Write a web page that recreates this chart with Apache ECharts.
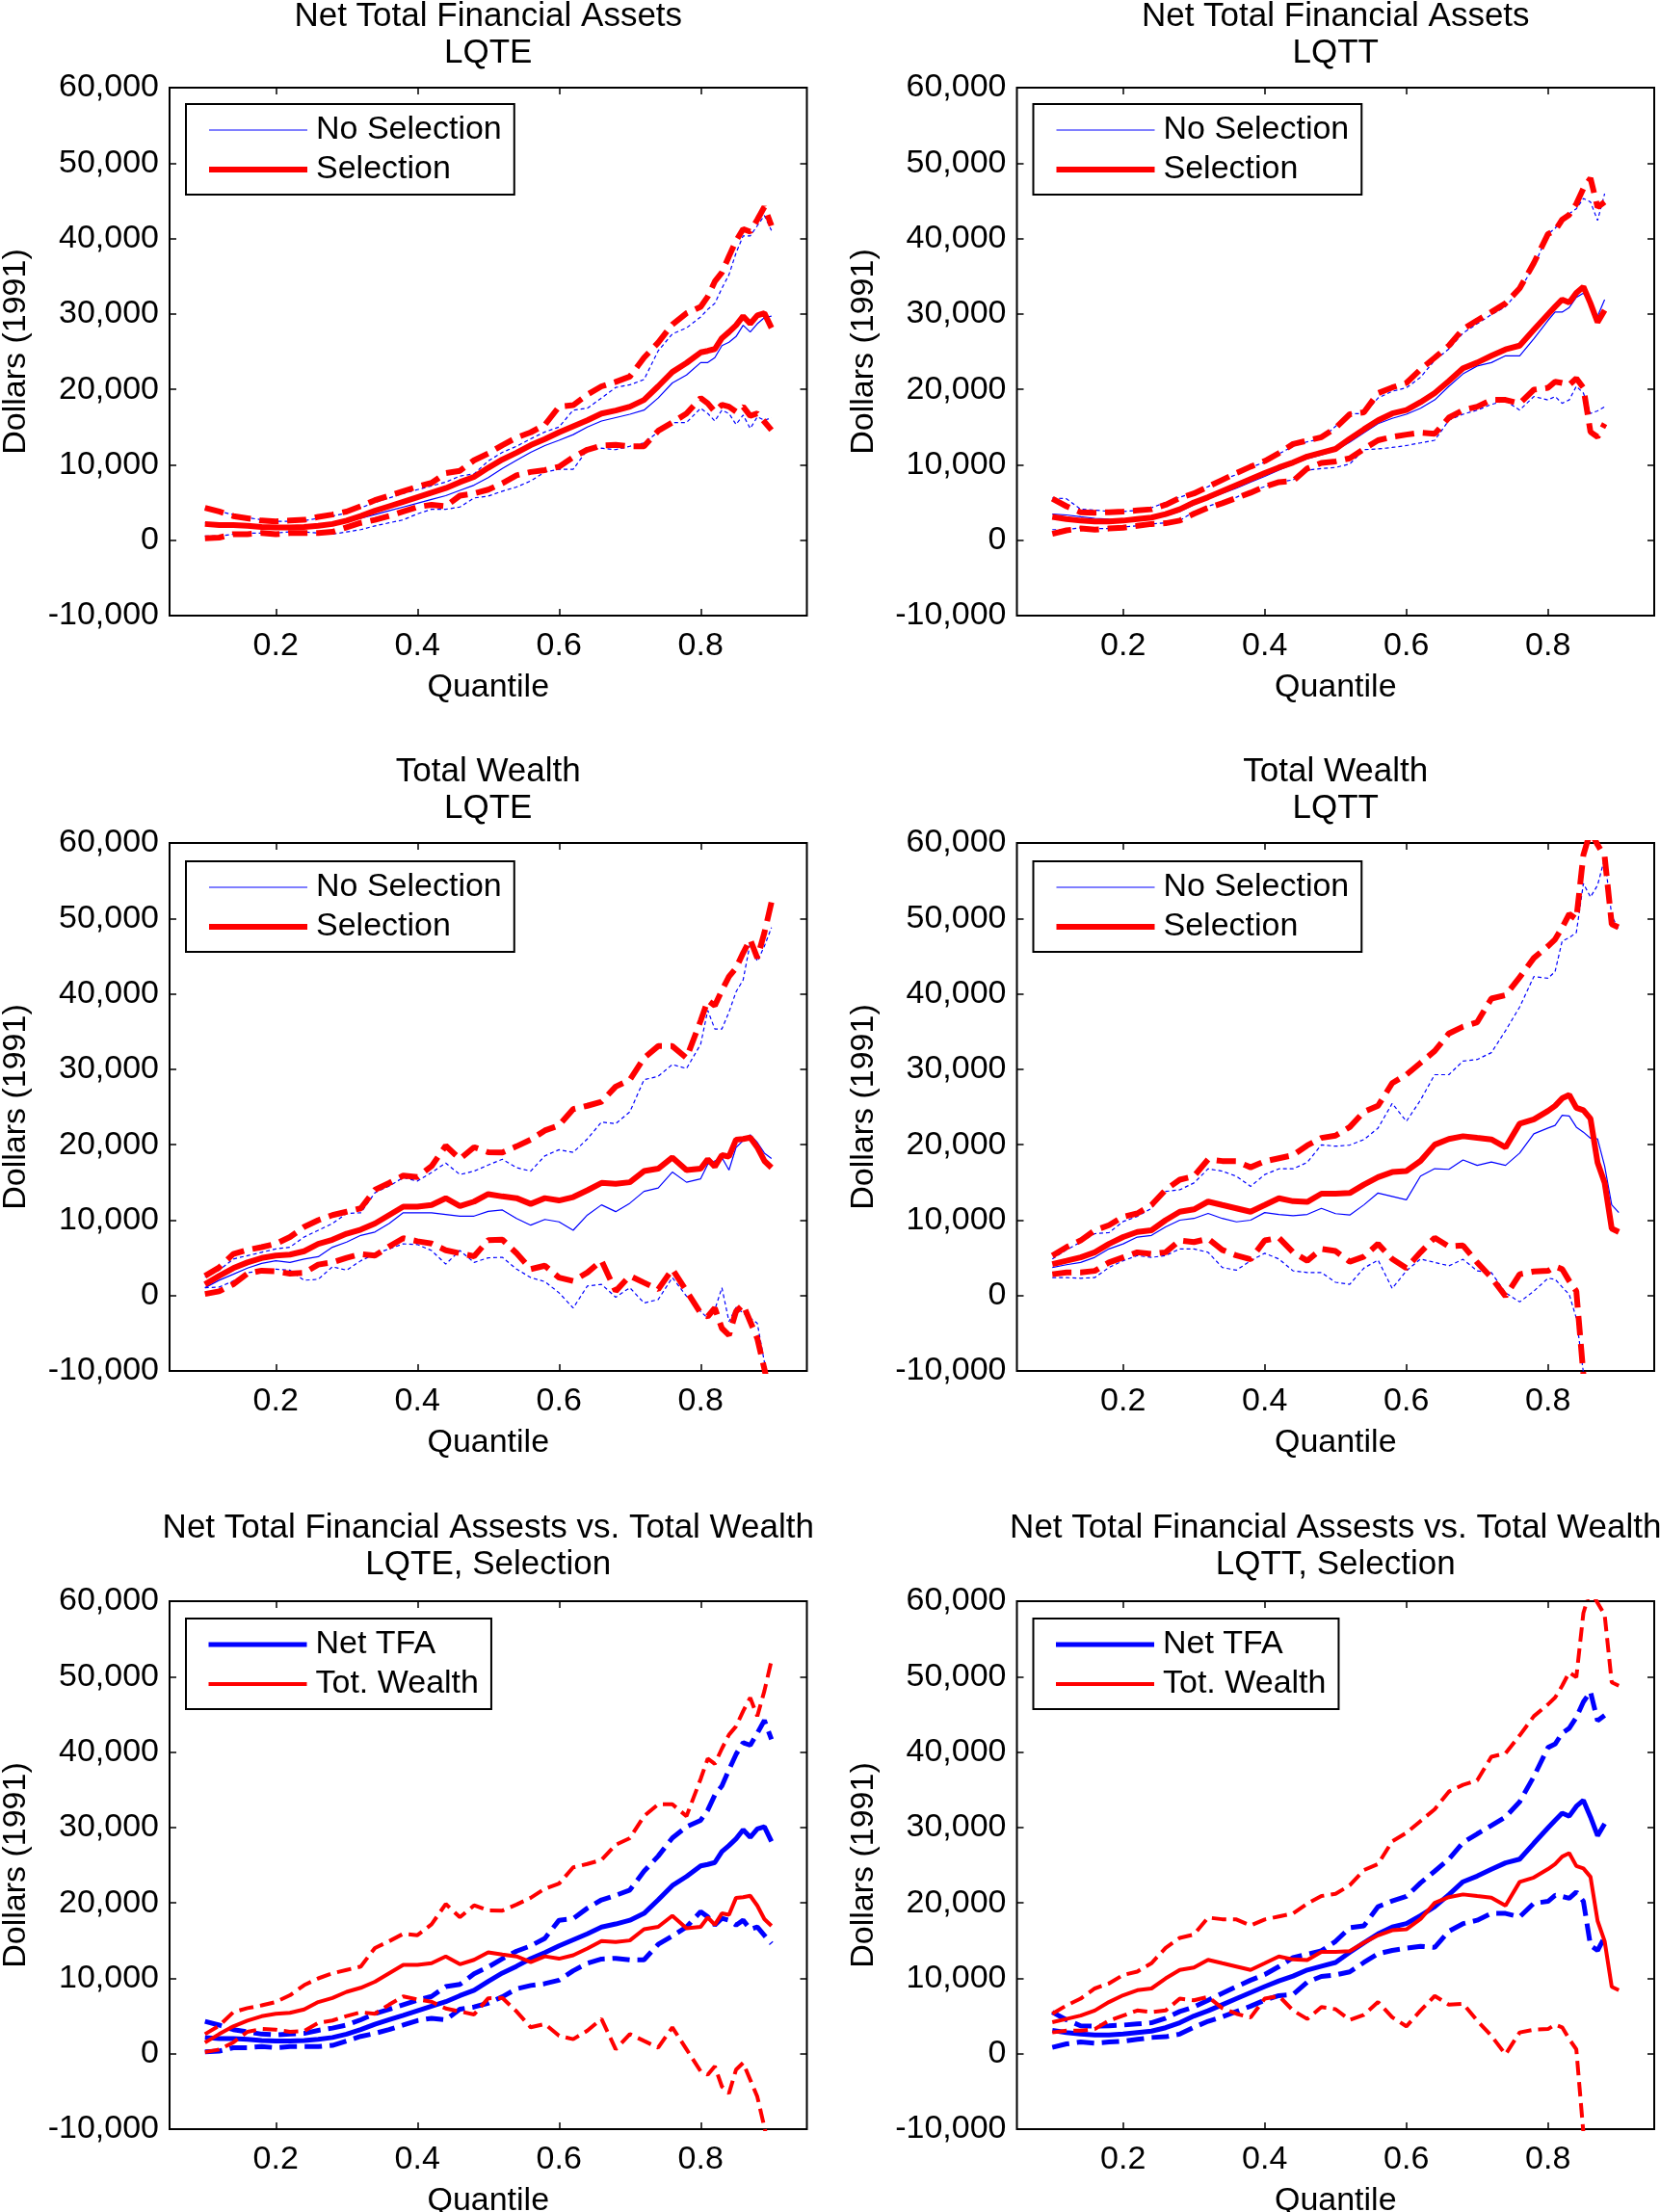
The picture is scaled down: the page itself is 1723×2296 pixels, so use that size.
<!DOCTYPE html>
<html><head><meta charset="utf-8">
<script src="https://cdn.jsdelivr.net/npm/echarts@6.0.0/dist/echarts.min.js"></script>
<style>html,body{margin:0;padding:0;background:#fff}#c{width:1723px;height:2296px}</style>
</head><body><div id="c"></div>
<script>
// Quantile grid
const X = [0.10,0.12,0.14,0.16,0.18,0.20,0.22,0.24,0.26,0.28,0.30,0.32,0.34,0.36,0.38,0.40,0.42,0.44,0.46,0.48,0.50,0.52,0.54,0.56,0.58,0.60,0.62,0.64,0.66,0.68,0.70,0.72,0.74,0.76,0.78,0.80,0.81,0.82,0.83,0.84,0.85,0.86,0.87,0.88,0.89,0.90];
const xTicks = [0.2,0.4,0.6,0.8];

// Net TFA, LQTE
const ntfaLqteNo   = [2300,2100,2000,1900,1800,1800,1800,1900,2000,2200,2500,2900,3400,3900,4400,4900,5400,5900,6600,7300, 8300,9500,10600,11650,12550,13250,14000,15000,15800,16250,16700,17250,18850,20850,21900,23550, 23550,24200,25800,26250,27000,28500,27600,28700,29500,29700];
const ntfaLqteNoHi = [4200,3800,3400,3000,2700,2500,2500,2600,2900,3200,3600,4300,5000,5600,6200,6700,7200,7700,8500,8800, 10500,11650,12450,13450,14350,15000,17250,17500,18850,20250,20600,21300,25100,27350,28150,29600, 30600,31400,33400,35200,38100,40350,40350,41700,43050,41050];
const ntfaLqteNoLo = [550,550,800,950,950,950,1100,1100,950,800,1100,1400,1900,2300,2700,3500,4100,4100,4400,5600, 5850,6500,7050,7850,9050,9400,9400,12000,12200,12000,12450,12900,14350,15600,15600,17500, 16800,15800,17250,16800,15350,16600,14800,16350,15900,16250];
const ntfaLqteSel   = [2150,2000,2000,1900,1750,1700,1700,1750,1900,2150,2600,3200,3900,4500,5100,5700,6300,6900,7700,8400, 9600,10700,11600,12600,13400,14300,15100,15900,16800,17200,17700,18600,20400,22300,23500,24900, 25100,25350,26800,27600,28500,29700,28700,29800,30100,28150];
const ntfaLqteSelHi = [4300,3800,3200,2900,2600,2500,2600,2700,3100,3400,3800,4500,5300,5900,6500,7100,7600,8900,9200,10600, 11500,12600,13600,14300,15300,17700,17900,19300,20400,21000,21700,24200,26200,28600,30100,30950, 32300,34300,35500,37650,39700,41250,40900,42500,44200,41700];
const ntfaLqteSelLo = [250,350,800,800,950,800,950,950,950,1100,1700,2300,2700,3200,3800,4400,4700,4500,5900,6200, 6700,7550,8600,9050,9300,9750,11000,12000,12550,12650,12450,12450,14500,15600,16800,18850, 18150,17050,17950,17700,17050,17700,16500,16800,15700,14600];

// Net TFA, LQTT
const ntfaLqttNo   = [3450,3350,3100,2900,2800,2750,2800,2900,3200,3800,4700,5500,6200,6900,7700,8450,9300,10050,10800,11300, 11900,13000,14250,15450,16150,16700,17500,18600,20400,22050,23100,23550,24450,24450,26700,29150, 30250,30250,30850,32200,32750,31400,29700,31900,null,null];
const ntfaLqttNoHi = [5600,5500,4100,4000,3800,3800,3950,4300,5000,5700,6300,7100,8000,8700,9650,10350,11450,12450,13050,13450, 15100,16800,16750,18850,19750,20200,21600,23850,25350,27450,28700,29900,30950,33200,36300,40600, 41350,42500,43300,43950,45300,44850,42400,45950,null,null];
const ntfaLqttNoLo = [1400,1400,1650,1550,1550,1750,1900,2150,2300,2600,3800,4500,5100,5700,6500,7100,7700,8000,9300,9500, 9650,10100,12000,12100,12300,12550,12900,13250,15900,16700,17250,18000,18500,17250,19050,18600, 19050,18150,18600,20400,19500,16800,17150,17700,null,null];
const ntfaLqttSel   = [3100,2800,2600,2500,2500,2600,2800,3000,3450,4100,5000,5700,6500,7300,8100,8900,9650,10300,11100,11600, 12100,13450,14700,15900,16800,17250,18300,19500,21100,22800,23550,24450,25300,25800,27900,29950, 30950,31900,31500,32800,33600,31400,28900,30500,null,null];
const ntfaLqttSelHi = [5500,4500,3700,3650,3700,3800,3950,4100,4700,5600,6200,7100,8000,8900,9750,10500,11550,12750,13200,13650, 14900,16700,16950,19500,20250,20850,22650,24200,25800,28000,29150,30250,31400,33400,36750,40600, 41050,42500,43150,44600,46650,48000,44150,44850,null,null];
const ntfaLqttSelLo = [850,1300,1550,1400,1550,1650,1900,2150,2250,2600,3500,4300,4900,5600,6300,7100,7700,7850,9500,10250, 10450,10850,12100,13250,13700,14000,14250,14100,16250,17250,17700,18600,18600,18150,19950,20200, 21000,20850,20600,21450,20200,14350,13700,15450,null,null];

// Total Wealth, LQTE
const twLqteNo   = [1030,2020,2820,3630,4260,4610,4390,4840,5150,6400,7080,7970,8420,9540,10970,10970,10970,10750,10530,10530, 11150,11340,10220,9330,10090,9770,8650,10670,12020,11120,12240,13810,14260,16370,15020,15470, 17400,17850,18300,16640,19640,20540,21300,20310,18880,18160];
const twLqteNoHi = [2460,3360,4840,5290,5730,6180,6410,7750,8650,9540,10890,10970,13620,14510,15630,15180,16310,17560,16040,16490, 17300,18070,16950,16500,18520,19330,18970,20760,23000,22780,24350,28610,29060,30630,30090,33320, 37800,35340,35340,37580,40270,41840,46770,44300,46320,48790];
const twLqteNoLo = [1030,1120,1930,3030,3270,3490,3360,2020,2150,3810,3360,4610,5510,6180,6850,6760,5960,4170,5960,4390, 5000,5070,3500,2380,1840,360,-1660,1260,1480,-220,1030,-990,-540,2380,-90,-2110, -3000,-1880,1030,-3450,-1570,-2330,-3000,-3680,-8830,-12400];
const twLqteSel   = [1480,2600,3630,4390,4970,5290,5420,5870,6850,7390,8200,8740,9540,10660,11780,11780,12000,12900,11870,12450, 13450,13140,12910,12150,12910,12600,13050,13950,14930,14800,15020,16500,16820,18300,16640,16820, 18070,17090,18610,18430,20670,20760,20940,19640,17850,16950];
const twLqteSelHi = [2600,3720,5510,6050,6410,6860,7750,9090,9990,10660,11110,11560,14020,14910,15900,15720,17150,19850,18100,19670, 19000,18970,19780,20670,21880,22560,24710,25160,25700,27700,28580,31500,33070,33070,31500,36430, 39120,38440,40460,42290,43410,45430,47200,44750,48100,52150];
const twLqteSelLo = [200,550,1500,2900,3300,3200,2900,3000,4100,4400,5000,5500,5300,6500,7600,7200,6900,6000,5600,5200, 7350,7400,5610,3500,3950,2380,1930,3050,4620,590,2600,1700,810,3500,590,-2330, -2780,-1660,-4350,-5250,-2110,-1210,-3450,-5700,-9730,-14200];

// Total Wealth, LQTT
const twLqttNo   = [3720,4080,4390,5060,6180,6850,7750,7970,9090,9990,10220,10890,10220,9770,9990,11000,10750,10570,10750,11560, 10850,10670,12020,13590,13140,12690,15830,16820,16730,17980,17260,17710,17260,18880,21440,22200, 22560,23900,23810,22330,21660,20850,20760,17170,12020,10990];
const twLqttNoHi = [4840,6050,7080,8200,8330,9810,10490,11560,13800,14020,14920,16800,16490,15810,14470,16040,16800,16800,17650,19980, 19800,19950,20670,22200,25470,23090,25920,29280,29280,31080,31300,32200,35110,38250,42290,42060, 42960,47000,47450,48120,54620,52830,54400,57980,50360,48480];
const twLqttNoLo = [2380,2380,2290,2380,3720,4610,5290,5060,5290,6180,6180,5730,3720,3360,4610,5600,4840,3270,3050,3050, 1750,1480,3630,4710,940,3270,4840,4390,3940,4800,3270,3050,360,-850,580,2290, 2150,1120,130,-3000,-10200,-20000,null,null,null,null];
const twLqttSel   = [4170,4610,5060,5730,6850,7750,8420,8650,9990,11110,11420,12450,12000,11560,11110,12000,12900,12500,12410,13500, 13500,13590,14710,15700,16370,16500,17850,20000,20760,21120,20900,20700,19640,22780,23360,24480, 25150,26140,26590,24890,24570,23450,17620,14930,8880,8430];
const twLqttSelHi = [5290,6410,7300,8650,9320,10440,10890,12000,14020,15360,15810,18050,17830,17800,17000,17800,18200,18600,19900,20900, 21200,22330,24350,25160,28160,29280,30850,32420,34750,35650,36230,39370,39820,42200,44750,46320, 47220,48790,50580,49910,58430,61570,59770,58200,49230,48790];
const twLqttSelLo = [2820,3050,3050,3270,4390,5060,5730,5510,5730,7300,7080,7530,6050,5300,4800,7300,7660,5730,4610,6180, 5900,4480,5150,6850,4840,3630,5730,7660,6500,6630,4390,2380,-90,2820,3180,3270, 3850,3500,1930,580,-10500,-20000,null,null,null,null];

// Text
const titles = [
  'Net Total Financial Assets\nLQTE', 'Net Total Financial Assets\nLQTT',
  'Total Wealth\nLQTE', 'Total Wealth\nLQTT',
  'Net Total Financial Assests vs. Total Wealth\nLQTE, Selection',
  'Net Total Financial Assests vs. Total Wealth\nLQTT, Selection'
];
const legendTop = ['No Selection', 'Selection'];
const legendBottom = ['Net TFA', 'Tot. Wealth'];

const FONT = '"Liberation Sans", Arial, Helvetica, sans-serif';
const BLUE = '#0000ff', RED = '#ff0000';

function band(name, c, hi, lo, color, w, dash) {
  return [
    {name, data: c, color, width: w, dash: 'solid'},
    {name, data: hi, color, width: w, dash},
    {name, data: lo, color, width: w, dash}
  ];
}
const thinDash = [4, 3], thickDash = [20, 9];
const panels = [
  {legend: legendTop, series: [...band('No Selection', ntfaLqteNo, ntfaLqteNoHi, ntfaLqteNoLo, BLUE, 1.2, thinDash), ...band('Selection', ntfaLqteSel, ntfaLqteSelHi, ntfaLqteSelLo, RED, 6, thickDash)]},
  {legend: legendTop, series: [...band('No Selection', ntfaLqttNo, ntfaLqttNoHi, ntfaLqttNoLo, BLUE, 1.2, thinDash), ...band('Selection', ntfaLqttSel, ntfaLqttSelHi, ntfaLqttSelLo, RED, 6, thickDash)]},
  {legend: legendTop, series: [...band('No Selection', twLqteNo, twLqteNoHi, twLqteNoLo, BLUE, 1.2, thinDash), ...band('Selection', twLqteSel, twLqteSelHi, twLqteSelLo, RED, 6, thickDash)]},
  {legend: legendTop, series: [...band('No Selection', twLqttNo, twLqttNoHi, twLqttNoLo, BLUE, 1.2, thinDash), ...band('Selection', twLqttSel, twLqttSelHi, twLqttSelLo, RED, 6, thickDash)]},
  {legend: legendBottom, series: [...band('Net TFA', ntfaLqteSel, ntfaLqteSelHi, ntfaLqteSelLo, BLUE, 5, [18, 8]), ...band('Tot. Wealth', twLqteSel, twLqteSelHi, twLqteSelLo, RED, 4, [15, 7])]},
  {legend: legendBottom, series: [...band('Net TFA', ntfaLqttSel, ntfaLqttSelHi, ntfaLqttSelLo, BLUE, 5, [18, 8]), ...band('Tot. Wealth', twLqttSel, twLqttSelHi, twLqttSelLo, RED, 4, [15, 7])]}
];

const COLS = [176, 1055.5], ROWS = [91, 875, 1662], W = 661.5, H = 548;
const TITLE_TOP = [-1.5, 782.5, 1567];
const LEGEND_TOP = [108, 894, 1680];

function thousands(v) { return String(v).replace(/\B(?=(\d{3})+(?!\d))/g, ','); }
const txt = {fontFamily: FONT, fontSize: 34, color: '#000'};

const option = {animation: false, backgroundColor: '#fff', title: [], legend: [], grid: [], xAxis: [], yAxis: [], series: []};
panels.forEach((p, i) => {
  const col = i % 2, row = Math.floor(i / 2);
  const left = COLS[col], top = ROWS[row];
  option.grid.push({left, top, width: W, height: H, show: true, borderColor: '#000', borderWidth: 2,
    backgroundColor: '#fff', containLabel: false, outerBoundsMode: 'none'});
  option.title.push({text: titles[i], left: left + W / 2, top: TITLE_TOP[row], textAlign: 'center', padding: 0,
    textStyle: Object.assign({}, txt, {fontSize: 35, fontWeight: 'normal', lineHeight: 38})});
  option.legend.push({orient: 'vertical', left: left + 17, top: LEGEND_TOP[row], padding: [10, 13, 9, 21],
    itemWidth: 102, itemHeight: 34, itemGap: 7, borderColor: '#000', borderWidth: 2, backgroundColor: '#fff',
    selectedMode: false, data: p.legend,
    lineStyle: {width: 'inherit'}, itemStyle: {opacity: 0},
    textStyle: Object.assign({}, txt, {lineHeight: 34, padding: [0, 0, 0, 4]})});
  option.xAxis.push({type: 'value', gridIndex: i, min: 0.05, max: 0.95, position: 'bottom',
    name: 'Quantile', nameLocation: 'middle', nameGap: 58, nameTextStyle: txt,
    axisLine: {show: false, onZero: false},
    axisTick: {show: true, inside: true, length: 7, customValues: xTicks, lineStyle: {color: '#000', width: 1.5}},
    axisLabel: Object.assign({customValues: xTicks, margin: 15, formatter: v => v.toFixed(1)}, txt),
    splitLine: {show: false}});
  option.yAxis.push({type: 'value', gridIndex: i, min: -10000, max: 60000, interval: 10000, position: 'left',
    name: 'Dollars (1991)', nameLocation: 'middle', nameGap: 142, nameRotate: 90, nameTextStyle: txt,
    axisLine: {show: false, onZero: false},
    axisTick: {show: true, inside: true, length: 7, lineStyle: {color: '#000', width: 1.5}},
    axisLabel: Object.assign({margin: 11, formatter: v => thousands(v)}, txt),
    splitLine: {show: false}});
  p.series.forEach(s => {
    const data = [];
    X.forEach((x, k) => { if (s.data[k] !== null && s.data[k] !== undefined) data.push([x, s.data[k]]); });
    option.series.push({type: 'line', name: s.name, xAxisIndex: i, yAxisIndex: i, data,
      symbol: 'none', showSymbol: false, clip: true, silent: true,
      lineStyle: {color: s.color, width: s.width, type: s.dash},
      itemStyle: {color: s.color}, emphasis: {disabled: true}});
  });
});
// mirrored ticks on top and right sides
panels.forEach((p, i) => {
  option.xAxis.push({type: 'value', gridIndex: i, min: 0.05, max: 0.95, position: 'top',
    axisLine: {show: false, onZero: false},
    axisTick: {show: true, inside: true, length: 7, customValues: xTicks, lineStyle: {color: '#000', width: 1.5}},
    axisLabel: {show: false}, splitLine: {show: false}});
  option.yAxis.push({type: 'value', gridIndex: i, min: -10000, max: 60000, interval: 10000, position: 'right',
    axisLine: {show: false, onZero: false},
    axisTick: {show: true, inside: true, length: 7, lineStyle: {color: '#000', width: 1.5}},
    axisLabel: {show: false}, splitLine: {show: false}});
});

const chart = echarts.init(document.getElementById('c'), null, {renderer: 'canvas', width: 1723, height: 2296});
chart.setOption(option);
</script>
</body></html>
